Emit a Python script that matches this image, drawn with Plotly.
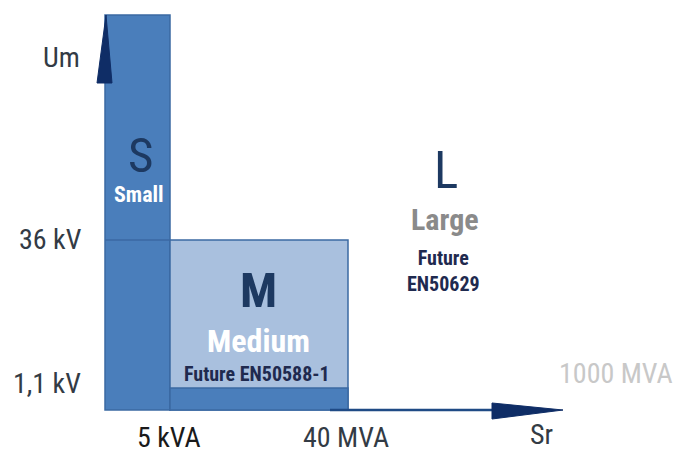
import plotly.graph_objects as go

# ---------------- data ----------------
size_classes = ["S", "M", "L"]
class_names = ["Small", "Medium", "Large"]
standards = ["", "Future EN50588-1", "Future<br>EN50629"]
power_limits = ["5 kVA", "40 MVA", "1000 MVA"]
voltage_limits = ["1,1 kV", "36 kV"]
axis_titles = ["Sr", "Um"]

# schematic (not-to-scale) diagram coordinates of the class boundaries
power_bounds = [0, 65, 243]          # origin, 5 kVA, 40 MVA
voltage_bounds = [0, 22, 170, 395]   # origin, 1,1 kV, 36 kV, top of S

# ---------------- styles ----------------
FONT = "Roboto Condensed, Liberation Sans, Arial, sans-serif"
MID_BLUE = "#4a7ebb"
EDGE_BLUE = "#3b69a3"
LIGHT_BLUE = "#a9c0de"
NAVY = "#0f2d66"
LETTER = "#1d3961"
GREY_TXT = "#333b45"

fig = go.Figure()

# S region (full height)
fig.add_shape(type="rect", x0=power_bounds[0], x1=power_bounds[1],
              y0=voltage_bounds[0], y1=voltage_bounds[3],
              fillcolor=MID_BLUE, line=dict(color=EDGE_BLUE, width=1.5), layer="below")
# 36 kV line across S
fig.add_shape(type="line", x0=power_bounds[0], x1=power_bounds[1],
              y0=voltage_bounds[2], y1=voltage_bounds[2],
              line=dict(color=EDGE_BLUE, width=1.5))
# M region
fig.add_shape(type="rect", x0=power_bounds[1], x1=power_bounds[2],
              y0=voltage_bounds[0], y1=voltage_bounds[2],
              fillcolor=LIGHT_BLUE, line=dict(color=EDGE_BLUE, width=1.5), layer="below")
# M low-voltage band (< 1,1 kV)
fig.add_shape(type="rect", x0=power_bounds[1], x1=power_bounds[2],
              y0=voltage_bounds[0], y1=voltage_bounds[1],
              fillcolor=MID_BLUE, line=dict(color=EDGE_BLUE, width=1.5))

# horizontal axis (Sr) with arrow
fig.add_shape(type="line", x0=225, x1=400, y0=0, y1=0,
              line=dict(color="#1f4a85", width=2.5))
fig.add_shape(type="path", path="M 387,7 L 458,0 L 387,-9 Z",
              fillcolor=NAVY, line=dict(color=NAVY, width=1))
# vertical axis (Um) arrow head
fig.add_shape(type="path", path="M -8,327 L 1,395 L 7,327 Z",
              fillcolor=NAVY, line=dict(color=NAVY, width=1))

def txt(x, y, s, size, color, bold=False):
    fig.add_annotation(x=x, y=y, text=("<b>%s</b>" % s) if bold else s,
                       showarrow=False, xanchor="center", yanchor="middle",
                       font=dict(family=FONT, size=size, color=color))

# axis titles and limits
txt(-44, 353, axis_titles[1], 28, GREY_TXT)
txt(436, -24, axis_titles[0], 28, GREY_TXT)
txt(-55, 171, voltage_limits[1], 28, GREY_TXT)
txt(-58, 27, voltage_limits[0], 28, GREY_TXT)
txt(64, -27, power_limits[0], 28, "#1a1a1a")
txt(241, -27, power_limits[1], 28, GREY_TXT)
txt(511, 37, power_limits[2], 28, "#c8c8c8")

# class labels
txt(35, 255, size_classes[0], 49, LETTER)
txt(34, 216, class_names[0], 22, "white", bold=True)
txt(153, 120, size_classes[1], 49, LETTER, bold=True)
txt(153, 69, class_names[1], 32, "white", bold=True)
txt(152, 36, standards[1], 20, "#1f2a4f", bold=True)
txt(341, 240, size_classes[2], 51, LETTER)
txt(340, 191, class_names[2], 30, "#8a8a8a", bold=True)
txt(338, 139, standards[2], 20, "#1f2a4f", bold=True)

fig.update_layout(
    width=682, height=454,
    margin=dict(l=0, r=0, t=0, b=0),
    paper_bgcolor="white", plot_bgcolor="white",
    showlegend=False,
    xaxis=dict(range=[-105, 577], visible=False, fixedrange=True),
    yaxis=dict(range=[-44, 410], visible=False, fixedrange=True),
)

fig.write_html("out.html", post_script="document.body.style.margin='0';",
               config={"displayModeBar": False})
